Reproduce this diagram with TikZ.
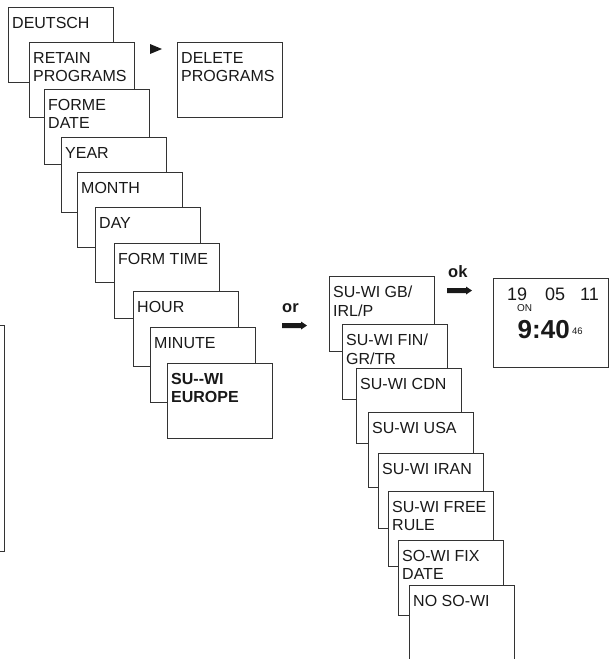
\documentclass[tikz,border=0pt]{standalone}
\usepackage{fontspec}
\setmainfont{Liberation Sans}
\begin{document}
\begin{tikzpicture}[x=1pt,y=-1pt,
  box/.style={draw=black!80, fill=white, line width=1pt, minimum width=105pt, minimum height=75pt, anchor=north west, inner sep=0pt, outer sep=0pt},
  lbl/.style={anchor=north west, inner sep=0pt, align=left, font=\fontsize{16}{18.5}\selectfont, text=black!90},
  blbl/.style={lbl, font=\fontsize{16}{18.5}\selectfont\bfseries},
  txt/.style={anchor=base west, inner sep=0pt, text=black!90},
  fat/.style={fill=black!90}]
\useasboundingbox (0,0) rectangle (609,659);
\clip (0,0) rectangle (609,659);
% partial box at left edge
\node[box, minimum width=120pt, minimum height=226pt] (partial) at (-116,325) {};
% left cascade
\node[box] (b1) at (8,7) {};
\node[lbl] (t1) at ([shift={(4,10)}]b1.north west) {DEUTSCH};
\node[box] (b2) at (29,42) {};
\node[lbl] (t2) at ([shift={(4,10)}]b2.north west) {RETAIN\\PROGRAMS};
\node[box] (b3) at (44,89) {};
\node[lbl] (t3) at ([shift={(4,10)}]b3.north west) {FORME\\DATE};
\node[box] (b4) at (61,137) {};
\node[lbl] (t4) at ([shift={(4,10)}]b4.north west) {YEAR};
\node[box] (b5) at (77,172) {};
\node[lbl] (t5) at ([shift={(4,10)}]b5.north west) {MONTH};
\node[box] (b6) at (95,207) {};
\node[lbl] (t6) at ([shift={(4,10)}]b6.north west) {DAY};
\node[box] (b7) at (114,243) {};
\node[lbl] (t7) at ([shift={(4,10)}]b7.north west) {FORM TIME};
\node[box] (b8) at (133,291) {};
\node[lbl] (t8) at ([shift={(4,10)}]b8.north west) {HOUR};
\node[box] (b9) at (150,327) {};
\node[lbl] (t9) at ([shift={(4,10)}]b9.north west) {MINUTE};
\node[box] (b10) at (167,363) {};
\node[blbl] (t10) at ([shift={(4,10)}]b10.north west) {SU-{}-WI\\EUROPE};
% delete programs
\node[box] (del) at (177,42) {};
\node[lbl] (tdel) at ([shift={(4,10)}]del.north west) {DELETE\\PROGRAMS};
\fill[black!90] (150,44) -- (162,49) -- (150,54) -- cycle;
% or arrow
\node[txt, font=\fontsize{16.5}{18}\selectfont\bfseries] (or) at (282,312) {or};
\fill[fat] (282,323) -- (301,323) -- (301,321.5) -- (307,325.5) -- (301,329.5) -- (301,328) -- (282,328) -- cycle;
% right cascade
\node[box] (r1) at (329,276) {};
\node[lbl] (s1) at ([shift={(4,10)}]r1.north west) {SU-WI GB/\\IRL/P};
\node[box] (r2) at (342,324) {};
\node[lbl] (s2) at ([shift={(4,10)}]r2.north west) {SU-WI FIN/\\GR/TR};
\node[box] (r3) at (356,368) {};
\node[lbl] (s3) at ([shift={(4,10)}]r3.north west) {SU-WI CDN};
\node[box] (r4) at (368,412) {};
\node[lbl] (s4) at ([shift={(4,10)}]r4.north west) {SU-WI USA};
\node[box] (r5) at (378,453) {};
\node[lbl] (s5) at ([shift={(4,10)}]r5.north west) {SU-WI IRAN};
\node[box] (r6) at (388,491) {};
\node[lbl] (s6) at ([shift={(4,10)}]r6.north west) {SU-WI FREE\\RULE};
\node[box] (r7) at (398,540) {};
\node[lbl] (s7) at ([shift={(4,10)}]r7.north west) {SO-WI FIX\\DATE};
\node[box, minimum height=95pt] (r8) at (409,585) {};
\node[lbl] (s8) at ([shift={(4,10)}]r8.north west) {NO SO-WI};
% ok arrow
\node[txt, font=\fontsize{16.5}{18}\selectfont\bfseries] (ok) at (448,277) {ok};
\fill[fat] (447,288) -- (466,288) -- (466,286.5) -- (472,290.5) -- (466,294.5) -- (466,293) -- (447,293) -- cycle;
% clock display
\node[box, minimum width=115pt, minimum height=89pt] (clock) at (493,278) {};
\node[txt, font=\fontsize{18}{20}\selectfont] (d19) at (507,300) {19};
\node[txt, font=\fontsize{18}{20}\selectfont] (d05) at (545,300) {05};
\node[txt, font=\fontsize{18}{20}\selectfont] (d11) at (580,300) {11};
\node[txt, font=\fontsize{10}{11}\selectfont] (on) at (517,311.5) {ON};
\node[txt, font=\fontsize{26}{28}\selectfont\bfseries] (time) at (517.5,338) {9:40};
\node[txt, font=\fontsize{9.5}{10}\selectfont] (sec) at (572,334.5) {46};
\end{tikzpicture}
\end{document}
